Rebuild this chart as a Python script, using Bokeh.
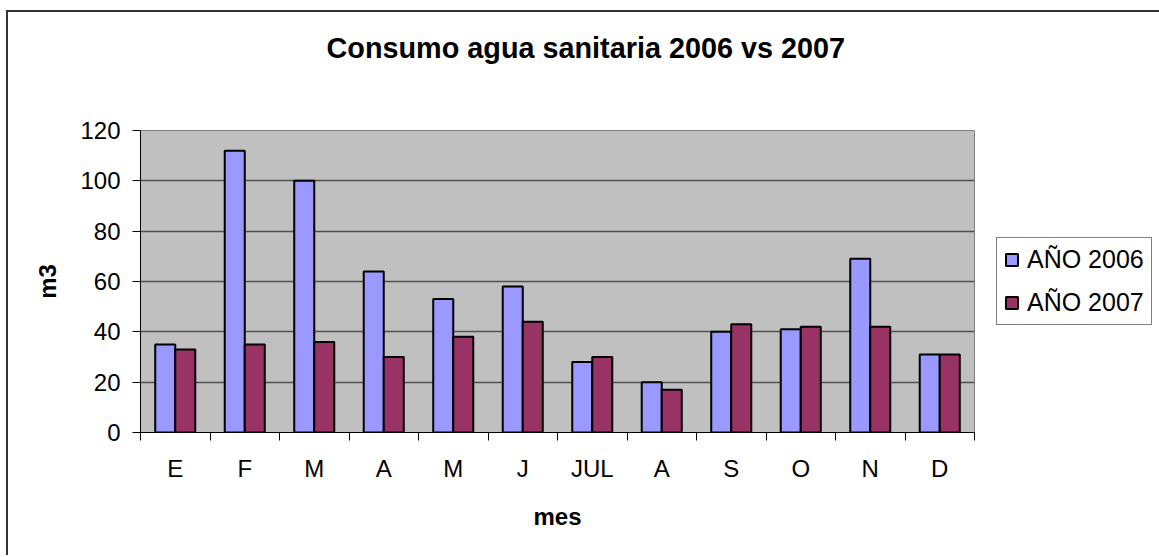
from bokeh.plotting import figure
from bokeh.models import (Range1d, FixedTicker, Legend, LegendItem, Title,
                          ColumnDataSource)
from bokeh.embed import file_html
from bokeh.resources import INLINE

# ---- data ----
months = ["E", "F", "M", "A", "M", "J", "JUL", "A", "S", "O", "N", "D"]
y2006 = [35, 112, 100, 64, 53, 58, 28, 20, 40, 41, 69, 31]
y2007 = [33, 35, 36, 30, 38, 44, 30, 17, 43, 42, 42, 31]
series_names = ["AÑO 2006", "AÑO 2007"]
yticks = [0, 20, 40, 60, 80, 100, 120]
title_text = "Consumo agua sanitaria 2006 vs 2007"
xlabel = "mes"
ylabel = "m3"

FONT = "Liberation Sans"

n = len(months)
centers = [i + 0.5 for i in range(n)]
off = 0.144
bw = 0.288
src = ColumnDataSource(dict(
    x1=[c - off for c in centers],
    x2=[c + off for c in centers],
    a=y2006, b=y2007))

# canvas origin on page ~ (8, 12) because of margin + border
p = figure(frame_width=834, frame_height=302, output_backend="svg",
           toolbar_location=None, title_location=None,
           x_range=Range1d(0, n), y_range=Range1d(0, 120),
           min_border_left=132, min_border_right=183,
           min_border_top=118, min_border_bottom=123)
p.margin = (10, 0, 0, 6)
p.styles = {"border-left": "2px solid #333333", "border-top": "2px solid #333333"}

p.background_fill_color = "#C0C0C0"
p.border_fill_color = "white"
p.outline_line_color = "#808080"
p.outline_line_width = 1

r1 = p.vbar(x="x1", top="a", width=bw, source=src, fill_color="#9999FF",
            line_color="black", line_width=2)
r2 = p.vbar(x="x2", top="b", width=bw, source=src, fill_color="#993366",
            line_color="black", line_width=2)

# spacer between plot area and title, then the title itself
p.add_layout(Title(text=" ", text_font=FONT, text_font_size="10px",
                   standoff=52), "above")
p.add_layout(Title(text=title_text, text_font=FONT, text_font_size="28.8px",
                   text_font_style="bold", text_color="black", align="left",
                   offset=186, vertical_align="top", standoff=0), "above")

# grid
p.xgrid.visible = False
p.ygrid.ticker = FixedTicker(ticks=yticks)
p.ygrid.grid_line_color = "#505050"
p.ygrid.grid_line_width = 1.5
p.ygrid.level = "underlay"

# x axis
xa = p.xaxis[0]
xa.ticker = FixedTicker(ticks=centers, minor_ticks=list(range(n + 1)))
xa.major_label_overrides = {c: m for c, m in zip(centers, months)}
xa.major_tick_out = 0
xa.major_tick_in = 0
xa.minor_tick_out = 8
xa.minor_tick_in = 0
xa.minor_tick_line_color = "black"
xa.axis_line_color = "black"
xa.major_label_standoff = 14
xa.major_label_text_font = FONT
xa.major_label_text_font_size = "24px"
xa.major_label_text_color = "black"
xa.axis_label = xlabel
xa.axis_label_text_font = FONT
xa.axis_label_text_font_size = "24px"
xa.axis_label_text_font_style = "bold"
xa.axis_label_text_color = "black"
xa.axis_label_standoff = 18

# y axis
ya = p.yaxis[0]
ya.ticker = FixedTicker(ticks=yticks)
ya.major_tick_out = 8
ya.major_tick_in = 0
ya.minor_tick_out = 0
ya.minor_tick_in = 0
ya.major_tick_line_color = "black"
ya.axis_line_color = "black"
ya.major_label_standoff = 12
ya.major_label_text_font = FONT
ya.major_label_text_font_size = "24px"
ya.major_label_text_color = "black"
ya.axis_label = ylabel
ya.axis_label_text_font = FONT
ya.axis_label_text_font_size = "24px"
ya.axis_label_text_font_style = "bold"
ya.axis_label_text_color = "black"
ya.axis_label_standoff = 16

# legend to the right of the plot area
legend = Legend(items=[LegendItem(label=series_names[0], renderers=[r1]),
                       LegendItem(label=series_names[1], renderers=[r2])],
                location="center_left", orientation="vertical",
                border_line_color="black", border_line_width=1,
                background_fill_color="white", background_fill_alpha=1,
                label_text_font=FONT, label_text_font_size="25px",
                label_text_color="black",
                glyph_width=15, glyph_height=15, label_standoff=8,
                spacing=14, padding=7, margin=22)
p.add_layout(legend, "right")

open("out.html", "w").write(file_html(p, INLINE))
